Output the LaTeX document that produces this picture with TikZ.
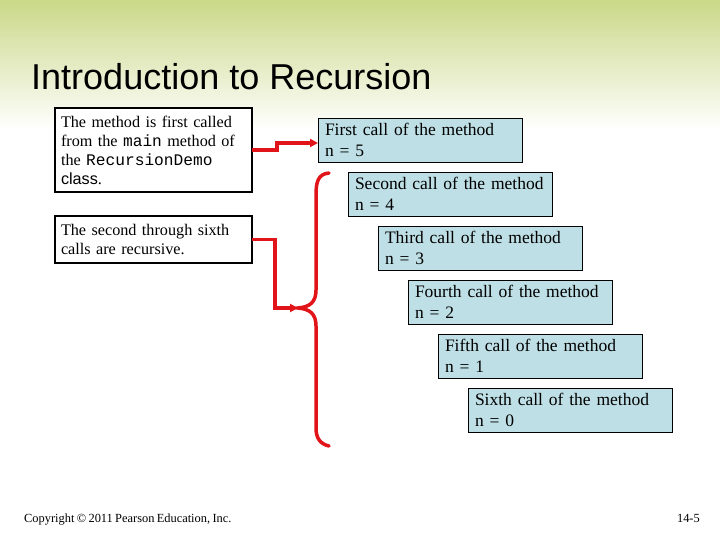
\documentclass[tikz,border=0pt]{standalone}
\usepackage{fontspec}
\setmainfont[WordSpace=0.75]{Liberation Serif}
\setsansfont{Liberation Sans}
\setmonofont{Liberation Mono}
\usepackage{tikz}
\usetikzlibrary{arrows.meta,positioning,calc}
\definecolor{slgreen}{RGB}{202,216,136}
\definecolor{callfill}{RGB}{190,223,229}
\definecolor{linkred}{RGB}{225,20,25}

\begin{document}
\begin{tikzpicture}[x=1pt,y=-1pt,
  note/.style={draw=black,line width=1.6pt,fill=white,anchor=north west,outer sep=0pt,
               minimum width=197pt,inner xsep=6pt,text width=185pt,align=left,
               font=\fontsize{16.2}{19}\selectfont},
  callbox/.style={draw=black,line width=0.8pt,fill=callfill,anchor=north west,outer sep=0pt,
                  minimum width=204pt,minimum height=44pt,inner xsep=7pt,text width=190pt,
                  align=left,font=\fontsize{17.5}{20.5}\selectfont},
  link/.style={-{Triangle[length=8pt,width=8pt]},line width=3.5pt,color=linkred},
  brace/.style={line width=3.5pt,color=linkred,line cap=round},
  node distance=10pt
]
\useasboundingbox (0,0) rectangle (720,540);
\fill[white] (0,0) rectangle (720,540);
\shade[top color=slgreen,bottom color=white] (0,0) rectangle (720,130);

% title and footer
\node[anchor=base west,inner sep=0pt,font=\sffamily\fontsize{36}{40}\selectfont] (title) at (31,90) {Introduction to Recursion};
\node[anchor=base west,inner sep=0pt,font=\fontsize{12.4}{14}\selectfont] (copy) at (24,522) {Copyright \textcopyright{} 2011 Pearson Education, Inc.};
\node[anchor=base east,inner sep=0pt,font=\fontsize{12.4}{14}\selectfont] (page) at (700,522) {14-5};

% notes on the left
\node[note,minimum height=84pt] (n1) at (55,108) {The method is first called\\from the \texttt{main} method of\\the \texttt{RecursionDemo}\\\textsf{class}.};
\node[note,minimum height=47pt,below=24pt of n1.south west,anchor=north west] (n2) {The second through sixth\\calls are recursive.};

% the six calls
\node[callbox] (f1) at (318,118) {First call of the method\\n = 5};
\node[callbox,below=10pt of f1.south west,anchor=north west,xshift=30pt] (f2) {Second call of the method\\n = 4};
\node[callbox,below=10pt of f2.south west,anchor=north west,xshift=30pt] (f3) {Third call of the method\\n = 3};
\node[callbox,below=10pt of f3.south west,anchor=north west,xshift=30pt] (f4) {Fourth call of the method\\n = 2};
\node[callbox,below=10pt of f4.south west,anchor=north west,xshift=30pt] (f5) {Fifth call of the method\\n = 1};
\node[callbox,below=10pt of f5.south west,anchor=north west,xshift=30pt] (f6) {Sixth call of the method\\n = 0};

% brace over calls 2 to 6
\coordinate (tip) at (298,308);
\draw[brace] (329,173) .. controls (318,174) and (316,182) .. (316,195) -- (316,290)
  .. controls (316,302) and (310,307) .. (tip)
  .. controls (310,309) and (316,314) .. (316,326) -- (316,428)
  .. controls (316,438) and (320,444) .. (329,446);

\draw[link] (n1.east) -- ++(25,0) |- ([yshift=-3pt]f1.west);
\draw[link] (n2.east) -- ++(23,0) |- (tip);
\end{tikzpicture}
\end{document}
